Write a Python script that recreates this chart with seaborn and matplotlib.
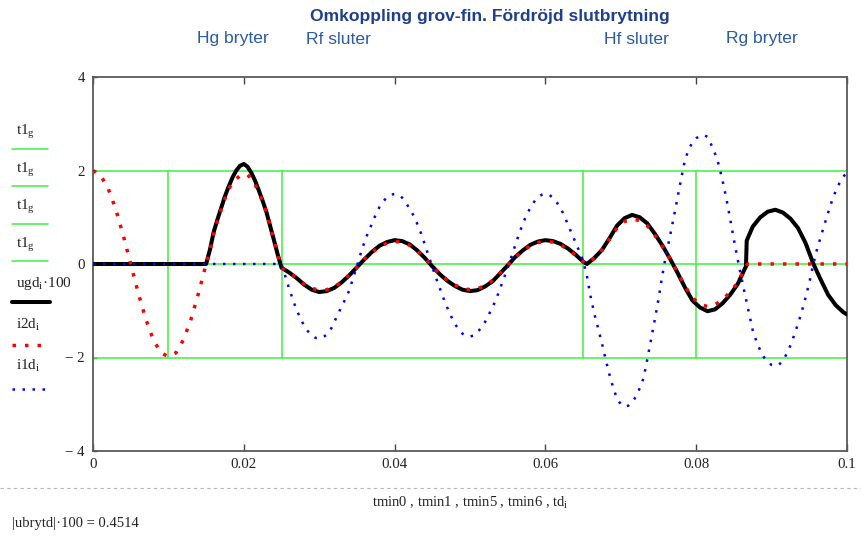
import numpy as np
import pandas as pd
import seaborn as sns
import matplotlib.pyplot as plt
from matplotlib.lines import Line2D

# --- data ---
# ugd_i*100 (black, solid)
ugd_t = [0.0, 0.015,
         0.0155, 0.016, 0.0165, 0.017, 0.0175, 0.018, 0.0185, 0.019, 0.0195, 0.020,
         0.0205, 0.021, 0.0215, 0.022, 0.0225, 0.023, 0.0235, 0.024, 0.0245, 0.025,
         0.026, 0.027, 0.028, 0.029, 0.030, 0.031, 0.032, 0.033, 0.034, 0.035,
         0.036, 0.037, 0.038, 0.039, 0.040, 0.041, 0.042, 0.043, 0.044, 0.045,
         0.046, 0.047, 0.048, 0.049, 0.050, 0.051, 0.052, 0.053, 0.054, 0.055,
         0.056, 0.057, 0.058, 0.059, 0.060, 0.061, 0.062, 0.063, 0.064, 0.065,
         0.0655,
         0.0665, 0.0675, 0.0685, 0.0695, 0.0705, 0.0715, 0.0725, 0.0735, 0.0745, 0.0755,
         0.0765, 0.0775, 0.0785, 0.0795, 0.0805, 0.0815, 0.0825, 0.0835, 0.0845, 0.0855,
         0.0866, 0.0867,
         0.0875, 0.0885, 0.0895, 0.0905, 0.0915, 0.0925, 0.0935, 0.0945, 0.0955, 0.0965,
         0.0975, 0.0985, 0.0995, 0.100]
ugd_v = [0.0, 0.0,
         0.30, 0.68, 0.95, 1.20, 1.45, 1.66, 1.85, 2.00, 2.10, 2.14,
         2.08, 1.95, 1.78, 1.57, 1.35, 1.11, 0.81, 0.51, 0.20, -0.08,
         -0.18, -0.30, -0.44, -0.55, -0.60, -0.58, -0.51, -0.39, -0.24, -0.07,
         0.10, 0.26, 0.39, 0.47, 0.51, 0.49, 0.42, 0.29, 0.13, -0.05,
         -0.22, -0.36, -0.47, -0.55, -0.58, -0.56, -0.48, -0.37, -0.20, -0.03,
         0.15, 0.29, 0.41, 0.48, 0.51, 0.49, 0.43, 0.33, 0.20, 0.05,
         0.00,
         0.13, 0.30, 0.55, 0.82, 0.98, 1.05, 1.00, 0.87, 0.65, 0.40,
         0.12, -0.18, -0.50, -0.78, -0.93, -1.01, -0.97, -0.84, -0.66, -0.43,
         -0.05, 0.50,
         0.80, 1.00, 1.12, 1.16, 1.10, 0.97, 0.77, 0.45, 0.02, -0.33,
         -0.66, -0.88, -1.03, -1.08]

# i2d_i (red, dotted)
i2d_t = [0.000, 0.001, 0.002, 0.003, 0.004, 0.005, 0.006, 0.007, 0.008, 0.009,
         0.010, 0.011, 0.012, 0.013, 0.014, 0.015,
         0.0155, 0.016, 0.0165, 0.017, 0.0175, 0.018, 0.0185, 0.019, 0.0195, 0.020,
         0.0205, 0.021, 0.0215, 0.022, 0.0225, 0.023, 0.0235, 0.024, 0.0245, 0.025,
         0.026, 0.027, 0.028, 0.029, 0.030, 0.031, 0.032, 0.033, 0.034, 0.035,
         0.036, 0.037, 0.038, 0.039, 0.040, 0.041, 0.042, 0.043, 0.044, 0.045,
         0.046, 0.047, 0.048, 0.049, 0.050, 0.051, 0.052, 0.053, 0.054, 0.055,
         0.056, 0.057, 0.058, 0.059, 0.060, 0.061, 0.062, 0.063, 0.064, 0.065,
         0.0655,
         0.0665, 0.0675, 0.0685, 0.0695, 0.0705, 0.0715, 0.0725, 0.0735, 0.0745, 0.0755,
         0.0765, 0.0775, 0.0785, 0.0795, 0.0805, 0.0815, 0.0825, 0.0835, 0.0845, 0.0855,
         0.0866, 0.0868, 0.100]
i2d_v = [2.00, 1.90, 1.62, 1.18, 0.62, 0.00, -0.62, -1.18, -1.62, -1.90,
         -1.98, -1.90, -1.62, -1.18, -0.62, 0.00,
         0.27, 0.64, 0.92, 1.16, 1.40, 1.61, 1.73, 1.82, 1.89, 1.92,
         1.91, 1.82, 1.70, 1.52, 1.33, 1.10, 0.81, 0.51, 0.20, -0.08,
         -0.18, -0.30, -0.43, -0.52, -0.56, -0.55, -0.49, -0.38, -0.23, -0.07,
         0.10, 0.25, 0.37, 0.45, 0.48, 0.47, 0.40, 0.28, 0.13, -0.05,
         -0.21, -0.35, -0.45, -0.52, -0.55, -0.53, -0.46, -0.35, -0.19, -0.03,
         0.14, 0.28, 0.39, 0.46, 0.48, 0.47, 0.41, 0.31, 0.19, 0.05,
         0.00,
         0.13, 0.30, 0.53, 0.77, 0.91, 0.96, 0.93, 0.82, 0.62, 0.38,
         0.12, -0.17, -0.47, -0.72, -0.86, -0.91, -0.87, -0.76, -0.60, -0.40,
         -0.05, 0.00, 0.00]

# i1d_i (blue, dotted)
i1d_t = [0.0,
         0.0250, 0.0255, 0.0260, 0.0265, 0.0270, 0.0275, 0.0280, 0.0285, 0.0290, 0.0295,
         0.0300, 0.0305, 0.0310, 0.0315, 0.0320, 0.0325, 0.0330, 0.0335, 0.0340, 0.0345,
         0.0350, 0.0355, 0.0360, 0.0365, 0.0370, 0.0375, 0.0380, 0.0385, 0.0390, 0.0395,
         0.0400, 0.0405, 0.0410, 0.0415, 0.0420, 0.0425, 0.0430, 0.0435, 0.0440, 0.0445,
         0.0450, 0.0455, 0.0460, 0.0465, 0.0470, 0.0475, 0.0480, 0.0485, 0.0490, 0.0495,
         0.0500, 0.0505, 0.0510, 0.0515, 0.0520, 0.0525, 0.0530, 0.0535, 0.0540, 0.0545,
         0.0550, 0.0555, 0.0560, 0.0565, 0.0570, 0.0575, 0.0580, 0.0585, 0.0590, 0.0595,
         0.0600, 0.0605, 0.0610, 0.0615, 0.0620, 0.0625, 0.0630, 0.0635, 0.0640, 0.0645,
         0.0650, 0.0655, 0.0660, 0.0665, 0.0670, 0.0675, 0.0680, 0.0685, 0.0690, 0.0695,
         0.0700, 0.0705, 0.0710, 0.0715, 0.0720, 0.0725, 0.0730, 0.0735, 0.0740, 0.0745,
         0.0750, 0.0755, 0.0760, 0.0765, 0.0770, 0.0775, 0.0780, 0.0785, 0.0790, 0.0795,
         0.0800, 0.0805, 0.0810, 0.0815, 0.0820, 0.0825, 0.0830, 0.0835, 0.0840, 0.0845,
         0.0850, 0.0855, 0.0860, 0.0865, 0.0870, 0.0875, 0.0880, 0.0885, 0.0890, 0.0895,
         0.0900, 0.0905, 0.0910, 0.0915, 0.0920, 0.0925, 0.0930, 0.0935, 0.0940, 0.0945,
         0.0950, 0.0955, 0.0960, 0.0965, 0.0970, 0.0975, 0.0980, 0.0985, 0.0990, 0.0995,
         0.1000]
i1d_v = [0.0,
         0.00, -0.26, -0.52, -0.76, -0.98, -1.16, -1.32, -1.44, -1.52, -1.58,
         -1.59, -1.57, -1.51, -1.41, -1.24, -1.07, -0.90, -0.74, -0.56, -0.30,
         -0.05, 0.22, 0.47, 0.68, 0.86, 1.06, 1.22, 1.34, 1.43, 1.48,
         1.50, 1.48, 1.42, 1.31, 1.18, 1.04, 0.86, 0.66, 0.42, 0.18,
         -0.06, -0.30, -0.52, -0.74, -0.94, -1.12, -1.28, -1.40, -1.49, -1.54,
         -1.55, -1.53, -1.46, -1.36, -1.24, -1.08, -0.92, -0.74, -0.52, -0.30,
         -0.08, 0.16, 0.40, 0.64, 0.86, 1.05, 1.20, 1.33, 1.43, 1.48,
         1.50, 1.48, 1.42, 1.32, 1.20, 1.03, 0.84, 0.65, 0.46, 0.27,
         0.07, -0.25, -0.70, -1.07, -1.38, -1.70, -2.05, -2.37, -2.65, -2.88,
         -3.00, -3.05, -3.03, -2.95, -2.84, -2.66, -2.45, -2.05, -1.63, -1.20,
         -0.75, -0.25, 0.20, 0.58, 0.98, 1.40, 1.82, 2.22, 2.45, 2.60,
         2.69, 2.74, 2.76, 2.72, 2.55, 2.36, 2.12, 1.78, 1.40, 0.97,
         0.52, 0.10, -0.30, -0.68, -1.05, -1.42, -1.66, -1.85, -2.00, -2.10,
         -2.16, -2.18, -2.15, -2.07, -1.92, -1.74, -1.52, -1.28, -1.02, -0.72,
         -0.40, -0.02, 0.30, 0.57, 0.84, 1.10, 1.35, 1.56, 1.73, 1.87,
         1.95]

# switching instants (vertical markers) and t1g levels
tmin = [0.01, 0.025, 0.065, 0.08]
t1g = [-2, 2]
level_y = [2, 0, -2]

x_ticks = [0, 0.02, 0.04, 0.06, 0.08, 0.1]
x_ticklabels = ['0', '0.02', '0.04', '0.06', '0.08', '0.1']
y_ticks = [-4, -2, 0, 2, 4]
y_ticklabels = ['\u2212 4', '\u2212 2', '0', '2', '4']

events = ['Hg bryter', 'Rf sluter', 'Hf sluter', 'Rg bryter']
event_px = [233, 339, 637, 762]

sns.set_style("white")
plt.rcParams['font.family'] = ['Liberation Serif', 'DejaVu Serif']
plt.rcParams['mathtext.fontset'] = 'custom'
plt.rcParams['mathtext.rm'] = 'Liberation Serif'
plt.rcParams['mathtext.it'] = 'Liberation Serif:italic'

GREEN = '#3ef03e'
RED = '#ff0000'
BLUE = '#0000ff'
W, H = 862, 537

fig = plt.figure(figsize=(W / 100, H / 100), dpi=100)
ax = fig.add_axes([93 / W, 1 - 451 / H, (847 - 93) / W, (451 - 77) / H])

# green marker lines
for y in level_y:
    ax.axhline(y, color=GREEN, lw=1.1, zorder=1)
for t in tmin:
    ax.plot([t, t], t1g, color=GREEN, lw=1.1, zorder=1)

df_u = pd.DataFrame({'t': ugd_t, 'v': ugd_v})
df_2 = pd.DataFrame({'t': i2d_t, 'v': i2d_v})
df_1 = pd.DataFrame({'t': i1d_t, 'v': i1d_v})

sns.lineplot(data=df_u, x='t', y='v', ax=ax, color='black', lw=2.9,
             estimator=None, sort=False, zorder=3, solid_capstyle='round')
sns.lineplot(data=df_2, x='t', y='v', ax=ax, color=RED, lw=2.5,
             linestyle=(0, (1, 2.6)), dash_capstyle='butt',
             estimator=None, sort=False, zorder=4)
sns.lineplot(data=df_1, x='t', y='v', ax=ax, color=BLUE, lw=1.8,
             linestyle=(0, (1, 3.0)), dash_capstyle='butt',
             estimator=None, sort=False, zorder=5)

ax.set_xlim(0, 0.1)
ax.set_ylim(-4, 4)
ax.set_xlabel('')
ax.set_ylabel('')
ax.set_xticks(x_ticks)
ax.set_xticklabels(x_ticklabels)
ax.set_yticks(y_ticks)
ax.set_yticklabels(y_ticklabels)
ax.tick_params(axis='x', direction='in', length=5, width=1, top=True, bottom=True,
               pad=5, labelsize=10.7, color='#444444', labelcolor='#222222')
ax.tick_params(axis='y', direction='in', length=3, width=1, left=True,
               pad=6, labelsize=10.7, color='#444444', labelcolor='#222222')
for s in ax.spines.values():
    s.set_color('#5a5a5a')
    s.set_linewidth(1.3)


def fx(px):
    return px / W


def fy(py):
    return 1 - py / H


# title and event labels
fig.text(fx(490), fy(17), 'Omkoppling grov-fin. Fördröjd slutbrytning',
         family='Liberation Sans', weight='bold', fontsize=12.6,
         color='#1e3e8e', ha='center', va='center')
for lab, px in zip(events, event_px):
    fig.text(fx(px), fy(39), lab, family='Liberation Sans', fontsize=12.6,
             color='#2a5aa6', ha='center', va='center')

# legend at the left, Mathcad style: label above the line sample
leg_labels = ['t1$_\\mathrm{g}$'] * 4 + ['ugd$_\\mathrm{i}$\u00b7100', 'i2d$_\\mathrm{i}$', 'i1d$_\\mathrm{i}$']
leg_text_y = [132, 170, 207, 245, 283, 325, 366]
leg_line_y = [149, 186, 224, 261, 302, 345, 389]
leg_style = [dict(color=GREEN, lw=1.1)] * 4 + [
    dict(color='black', lw=2.9),
    dict(color=RED, lw=2.5, linestyle=(0, (1, 2.6)), dash_capstyle='butt'),
    dict(color=BLUE, lw=1.8, linestyle=(0, (1, 3.0)), dash_capstyle='butt'),
]
leg_x1 = [48, 48, 48, 48, 50, 42, 46]
for lab, ty, ly, st, x1 in zip(leg_labels, leg_text_y, leg_line_y, leg_style, leg_x1):
    fig.text(fx(16), fy(ty), lab, fontsize=11, color='#222222', va='center', ha='left')
    fig.add_artist(Line2D([fx(12), fx(x1)], [fy(ly), fy(ly)],
                          transform=fig.transFigure, **st))

# dashed separator and bottom texts
fig.add_artist(Line2D([0, 1], [fy(488), fy(488)], transform=fig.transFigure,
                      color='#b5b5b5', lw=0.8, linestyle=(0, (3, 3))))
fig.text(fx(470), fy(503), 'tmin0 , tmin1 , tmin5 , tmin6 , td$_\\mathrm{i}$',
         fontsize=10.5, color='#222222', ha='center', va='center')
fig.text(fx(12), fy(524), '|ubrytd|\u00b7100 = 0.4514', fontsize=10.5,
         color='#222222', ha='left', va='center')

fig.savefig('out.png', dpi=100)
